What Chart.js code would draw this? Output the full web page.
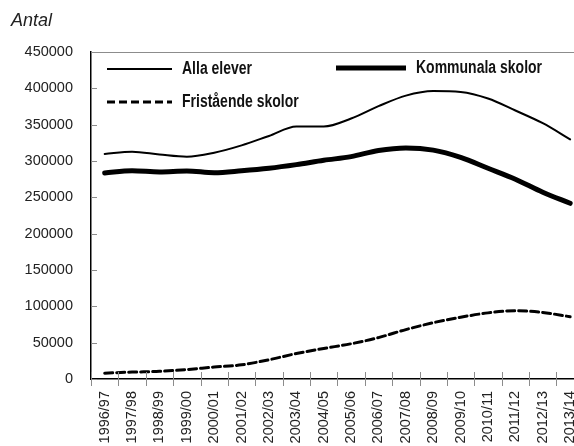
<!DOCTYPE html>
<html>
<head>
<meta charset="utf-8">
<script src="https://cdn.jsdelivr.net/npm/chart.js@4/dist/chart.umd.min.js"></script>
<style>
  body { margin: 0; overflow: hidden; background: #fff; }
</style>
</head>
<body>
<canvas id="chart" width="600" height="446"></canvas>
<script>
const years = ['1996/97', '1997/98', '1998/99', '1999/00', '2000/01', '2001/02', '2002/03', '2003/04', '2004/05',
    '2005/06', '2006/07', '2007/08', '2008/09', '2009/10', '2010/11', '2011/12', '2012/13', '2013/14']

const allaElever = [309600, 312800, 309000, 305900, 311400, 321500, 334500, 347500, 347500,
    358500, 375500, 390000, 396300, 395000, 386000, 369500, 352000, 329800]
const kommunalaSkolor = [283500, 286600, 285000, 286300, 283900, 286500, 290000, 295000, 301000,
    306000, 314500, 318000, 315000, 305000, 290000, 275000, 257000, 241800]
const friståendeSkolor = [8000, 9500, 10500, 13000, 16500, 19500, 26500, 35000, 42000,
    48500, 57000, 68000, 77500, 85000, 91000, 94000, 91500, 85700]

const yTicks = [0, 50000, 100000, 150000, 200000, 250000, 300000, 350000, 400000, 450000]

const sans = "'Liberation Sans', Arial, sans-serif"

const decorPlugin = {
    id: 'decor',
    afterDraw: chart => {
        const { ctx, chartArea, scales } = chart

        ctx.save()
        ctx.strokeStyle = '#8c8c8c'
        ctx.lineWidth = 1

        ctx.beginPath()
        ctx.moveTo(chartArea.left, chartArea.top + 0.5)
        ctx.lineTo(chartArea.right, chartArea.top + 0.5)
        ctx.stroke()

        // inward ticks on the value axis
        yTicks.forEach(value => {
            const y = Math.round(scales.y.getPixelForValue(value)) + 0.5

            ctx.beginPath()
            ctx.moveTo(chartArea.left, y)
            ctx.lineTo(chartArea.left + 6, y)
            ctx.stroke()
        })

        // category boundary ticks, crossing the axis
        for (let i = 0; i <= years.length; i++) {
            const x = Math.round(scales.x.getPixelForValue(i - 0.5)) + 0.5

            ctx.beginPath()
            ctx.moveTo(x, chartArea.bottom - 7)
            ctx.lineTo(x, chartArea.bottom + 7)
            ctx.stroke()
        }

        ctx.fillStyle = '#222'
        ctx.font = 'italic 18px ' + sans
        ctx.textBaseline = 'alphabetic'
        ctx.textAlign = 'left'
        ctx.fillText('Antal', 11, 26)

        const legendSpots = [
            { index: 0, x1: 107, x2: 172, y: 69 },
            { index: 1, x1: 336, x2: 406, y: 68 },
            { index: 2, x1: 107, x2: 172, y: 102 }
        ]

        legendSpots.forEach(spot => {
            const dataset = chart.data.datasets[spot.index]

            ctx.strokeStyle = dataset.borderColor
            ctx.lineWidth = dataset.borderWidth
            ctx.lineCap = 'butt'
            ctx.setLineDash(dataset.borderDash || [])
            ctx.beginPath()
            ctx.moveTo(spot.x1, spot.y)
            ctx.lineTo(spot.x2, spot.y)
            ctx.stroke()
            ctx.setLineDash([])

            // narrow bold look: squeeze the text sideways
            ctx.save()
            ctx.translate(spot.x2 + 10, spot.y)
            ctx.scale(0.8, 1)
            ctx.font = 'bold 17.5px ' + sans
            ctx.textBaseline = 'middle'
            ctx.fillStyle = '#111'
            ctx.fillText(dataset.label, 0, 0)
            ctx.restore()
        })

        ctx.restore()
    }
}

new Chart(document.querySelector('#chart').getContext('2d'), {
    type: 'line',
    data: {
        labels: years,
        datasets: [{
            label: 'Alla elever',
            data: allaElever,
            borderColor: '#000',
            borderWidth: 2
        }, {
            label: 'Kommunala skolor',
            data: kommunalaSkolor,
            borderColor: '#000',
            borderWidth: 5
        }, {
            label: 'Fristående skolor',
            data: friståendeSkolor,
            borderColor: '#000',
            borderWidth: 3,
            borderDash: [8, 4]
        }]
    },
    options: {
        responsive: false,
        animation: false,
        layout: { padding: { top: 52, right: 16, left: 0, bottom: 0 } },
        elements: {
            point: { radius: 0 },
            line: { cubicInterpolationMode: 'monotone', borderCapStyle: 'round', fill: false }
        },
        plugins: {
            legend: { display: false },
            title: { display: false },
            tooltip: { enabled: false }
        },
        scales: {
            x: {
                offset: true,
                grid: { display: false, drawTicks: false },
                border: { display: true, color: '#000', width: 1.5 },
                ticks: {
                    autoSkip: false,
                    minRotation: 90,
                    maxRotation: 90,
                    padding: 12,
                    color: '#222',
                    font: { family: sans, size: 14.5 }
                },
                afterFit: scale => { scale.height = 67 }
            },
            y: {
                min: 0,
                max: 450000,
                grid: { display: false, drawTicks: false },
                border: { display: true, color: '#000', width: 1.5 },
                afterBuildTicks: scale => { scale.ticks = yTicks.map(value => ({ value })) },
                ticks: {
                    padding: 18,
                    color: '#222',
                    font: { family: sans, size: 14.5 },
                    callback: value => String(value)
                },
                afterFit: scale => { scale.width = 91 }
            }
        }
    },
    plugins: [decorPlugin]
})
</script>
</body>
</html>
